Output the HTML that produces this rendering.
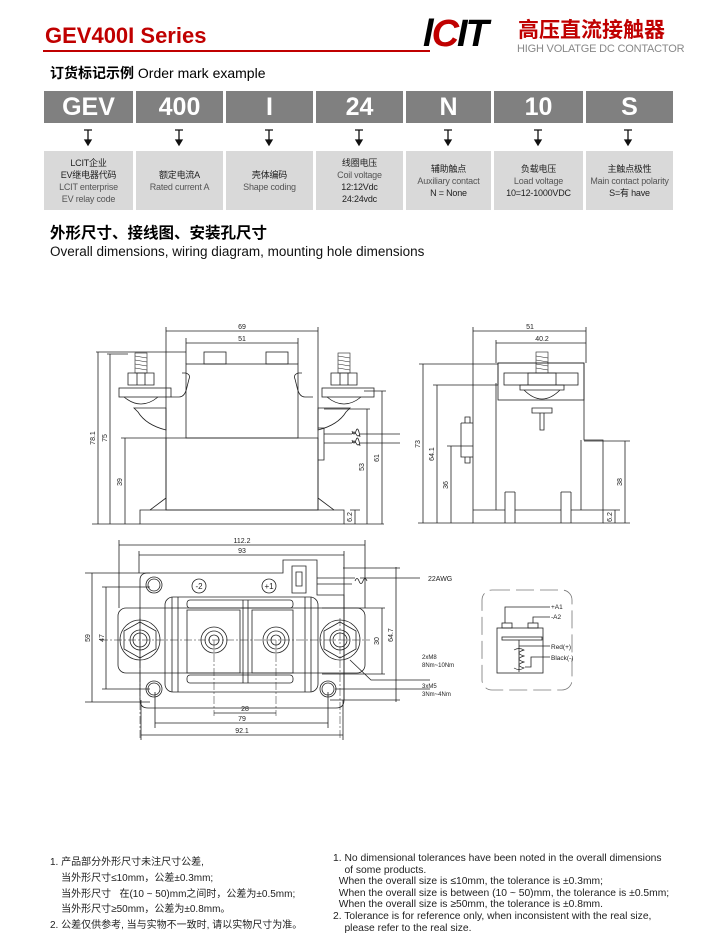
<!DOCTYPE html>
<html><head><meta charset="utf-8">
<style>
body{margin:0;background:#fff;width:708px;height:949px;overflow:hidden;position:relative;font-family:"Liberation Sans","Noto Sans CJK SC",sans-serif;}
.a{position:absolute;white-space:nowrap;}
.hb{position:absolute;top:91px;height:32px;background:#808080;color:#fff;font-weight:bold;font-size:25px;text-align:center;line-height:33px;}
.ib{position:absolute;top:151px;height:59px;background:#d9d9d9;text-align:center;font-size:9px;letter-spacing:-0.2px;line-height:12px;color:#222;display:flex;flex-direction:column;justify-content:center;}
.ib .g{color:#555;}
.n{position:absolute;color:#222;}
</style></head><body>
<div class="a" style="left:45px;top:23px;color:#c00000;font-weight:bold;font-size:22px;">GEV400I Series</div>
<div class="a" style="left:43px;top:50px;width:387px;height:2px;background:#c00000;"></div>
<div class="a" style="left:423px;top:14px;font-size:38px;font-weight:bold;font-style:italic;letter-spacing:-2px;line-height:40px;"><span style="color:#000">l</span><span style="color:#c00000">C</span><span style="color:#000">IT</span></div>
<div class="a" style="left:518px;top:20px;color:#c00000;font-weight:bold;font-size:21px;line-height:22px;">高压直流接触器</div>
<div class="a" style="left:517px;top:43px;color:#888;font-size:11px;line-height:12px;letter-spacing:-0.2px;">HIGH VOLATGE DC CONTACTOR</div>
<div class="a" style="left:50px;top:63px;font-size:14px;"><b>订货标记示例</b> Order mark example</div>

<div class="hb" style="left:44px;width:89px">GEV</div>
<div class="hb" style="left:136px;width:87px">400</div>
<div class="hb" style="left:226px;width:87px">I</div>
<div class="hb" style="left:316px;width:87px">24</div>
<div class="hb" style="left:406px;width:85px">N</div>
<div class="hb" style="left:494px;width:89px">10</div>
<div class="hb" style="left:586px;width:87px">S</div>

<svg class="a" style="left:0;top:0" width="708" height="160">
<g stroke="#111" stroke-width="1.3" fill="#111">
<path d="M84 130h8M88 130v12" fill="none"/><path d="M85 140l3 5 3-5z"/>
<path d="M175 130h8M179 130v12" fill="none"/><path d="M176 140l3 5 3-5z"/>
<path d="M265 130h8M269 130v12" fill="none"/><path d="M266 140l3 5 3-5z"/>
<path d="M355 130h8M359 130v12" fill="none"/><path d="M356 140l3 5 3-5z"/>
<path d="M444 130h8M448 130v12" fill="none"/><path d="M445 140l3 5 3-5z"/>
<path d="M534 130h8M538 130v12" fill="none"/><path d="M535 140l3 5 3-5z"/>
<path d="M624 130h8M628 130v12" fill="none"/><path d="M625 140l3 5 3-5z"/>
</g></svg>

<div class="ib" style="left:44px;width:89px"><div>LCIT企业</div><div>EV继电器代码</div><div class="g">LCIT enterprise</div><div class="g">EV relay code</div></div>
<div class="ib" style="left:136px;width:87px"><div>额定电流A</div><div class="g">Rated current A</div></div>
<div class="ib" style="left:226px;width:87px"><div>壳体编码</div><div class="g">Shape coding</div></div>
<div class="ib" style="left:316px;width:87px"><div>线圈电压</div><div class="g">Coil voltage</div><div>12:12Vdc</div><div>24:24vdc</div></div>
<div class="ib" style="left:406px;width:85px"><div>辅助触点</div><div class="g">Auxiliary contact</div><div>N = None</div></div>
<div class="ib" style="left:494px;width:89px"><div>负载电压</div><div class="g">Load voltage</div><div>10=12-1000VDC</div></div>
<div class="ib" style="left:586px;width:87px"><div>主触点极性</div><div class="g">Main contact polarity</div><div>S=有 have</div></div>

<div class="a" style="left:50px;top:221px;font-size:15.5px;font-weight:bold;">外形尺寸、接线图、安装孔尺寸</div>
<div class="a" style="left:50px;top:244px;font-size:13.5px;color:#111;">Overall dimensions, wiring diagram, mounting hole dimensions</div>

<svg class="a" style="left:0;top:0" width="708" height="949" font-family="Liberation Sans Narrow, Liberation Sans, sans-serif">
<g fill="none" stroke="#222" stroke-width="0.8">
<path d="M166 327V510M318 327V510M186 338V364M298 338V364"/>
<path d="M166 331H318M186 343H298"/>
<rect x="204" y="352" width="22" height="12"/><rect x="266" y="352" width="22" height="12"/>
<rect x="186" y="364" width="112" height="74"/>
<path d="M166 438H318V510H166Z"/>
<path d="M140 510H344V524H140Z"/>
<path d="M166 498L150 510M318 498L334 510"/>
<path d="M171 397h8q6 0 8-10l2-8q2-4 -3-6h-4M313 397h-8q-6 0-8-10l-2-8q-2-4 3-6h4"/>
<path d="M134 408h32v22q-20-5-28-18zM350 408h-32v22q20-5 28-18z"/>
<g id="bl">
<rect x="135" y="353" width="12" height="20" stroke-width="0.6"/>
<path d="M135 356l12 2M135 360l12 2M135 364l12 2M135 368l12 2" stroke-width="0.6"/>
<path d="M128 373h26v12h-26zM137 373v12M145 373v12"/>
<rect x="119" y="388" width="52" height="9"/>
<path d="M124 397q17 14 34 0"/>
</g>
<use href="#bl" x="203"/>
<path d="M318 428h6v32h-6M324 434H352M324 443H352M360 434H400M360 443H400"/>
<path d="M352 434q2-4 4 0t4 0M352 443q2-4 4 0t4 0M352 431q2 6 4 0t4 6M352 440q2 6 4 0t4 6"/>
<path d="M96 352H186M98 352V524M107 354H128M110 354V524M121 438H166M125 438V524M92 524H140M344 524H384M350 510H360M355 510V524M324 409H370M367 409V524M364 391H386M382 391V524"/>
<path d="M473 327V385M586 327V363M496 340V363M473 331H586M496 343H586"/>
<path d="M473 385V523H603V440H584V363H498V385Z"/>
<path d="M496 383V510M581 440V510M473 510H505M515 510H561M571 510H603"/>
<path d="M505 492V523M515 492V523M561 492V523M571 492V523M505 492h10M561 492h10"/>
<rect x="498" y="363" width="86" height="37"/>
<rect x="504" y="373" width="74" height="12"/>
<rect x="536" y="352" width="12" height="21" stroke-width="0.6"/>
<path d="M536 356l12 2M536 360l12 2M536 364l12 2M536 368l12 2" stroke-width="0.6"/>
<path d="M528 373h28v12h-28zM520 385h44v5h-44zM524 390q18 18 36 0M532 408h20v5h-20zM540 413v17h4v-17"/>
<path d="M461 423h12M461 423v34h12M465 423v-6h5v6M465 457v6h5v-6"/>
<path d="M419 364H498M423 364V523M433 385H473M437 385V523M447 446H473M451 446V523M584 441H630M625 441V523M603 510H620M615 510V523M418 523H473M603 523H630"/>
<path d="M119 540V608M365 540V608M139 551V573M344 551V700M119 545H365M139 555H344"/>
<rect x="118" y="608" width="247" height="65" rx="8"/>
<path d="M140 700V580q0-7 8-7H283V560h34v35h27v105q0 8-8 8H148q-8 0-8-8z"/>
<rect x="165" y="597" width="153" height="95" rx="8"/>
<path d="M172 597v95M178 597v95M305 597v95M311 597v95"/>
<rect x="187" y="600" width="106" height="8" rx="3"/><rect x="187" y="675" width="106" height="8" rx="3"/>
<path d="M187 610h53v63h-53zM252 610h41v63h-41zM243 600v83M248 600v83"/>
<circle cx="154" cy="585" r="8"/><circle cx="154" cy="585" r="6"/>
<circle cx="154" cy="689" r="8"/><circle cx="154" cy="689" r="6"/>
<circle cx="328" cy="689" r="8"/><circle cx="328" cy="689" r="6"/>
<g id="tm"><circle cx="140" cy="640" r="20"/><path d="M140 622l16 9v18l-16 9-16-9v-18z"/><circle cx="140" cy="640" r="10"/><circle cx="140" cy="640" r="7"/></g>
<use href="#tm" x="200"/>
<circle cx="214" cy="640" r="13"/><circle cx="214" cy="640" r="9"/><circle cx="214" cy="640" r="5"/>
<circle cx="276" cy="640" r="13"/><circle cx="276" cy="640" r="9"/><circle cx="276" cy="640" r="5"/>
<circle cx="199" cy="586" r="7"/><circle cx="269" cy="586" r="7"/>
<path d="M100 640H370M140 618V740M340 618V740M214 640V716M276 640V716" stroke-dasharray="8 2 2 2" stroke-width="0.5"/>
<path d="M292 566h14v27h-14zM296 572h6v14h-6z"/>
<path d="M317 578H355M360 578H420M317 584H352M355 581q2-5 4 0t4 0t4 0"/>
<path d="M343 568H400M396 567V702M330 700H400M322 608H385M382 608V674M322 674H385M350 660L371 680H430M335 689H430M85 573H150M92 573V702M85 702H150M102 587H150M106 587V689M102 689H150"/>
<path d="M214 713H276M155 723H328M141 735H343M155 692V728M328 692V728M141 700V740M343 700V740"/>
<rect x="482" y="590" width="90" height="100" rx="10" stroke-dasharray="18 6" stroke="#777"/>
<rect x="497" y="628" width="46" height="45"/>
<rect x="502" y="623" width="10" height="5"/><rect x="528" y="623" width="10" height="5"/>
<rect x="502" y="637" width="40" height="3"/>
<path d="M505 623V607H550M533 623V617H550M519 640V672M519 646H550M525 667H531V657H550"/>
<path d="M514 650q5-3 10 0q-10 3 0 6q-10 3 0 6q-10 3 0 6q-5 3-10 0" stroke-width="0.7"/>
</g>
<g fill="#222" font-size="7" text-anchor="middle">
<text x="242" y="329">69</text><text x="242" y="341">51</text>
<text x="530" y="329">51</text><text x="542" y="341">40.2</text>
<text x="242" y="543">112.2</text><text x="242" y="553">93</text>
<text x="245" y="711">28</text><text x="242" y="721">79</text><text x="242" y="733">92.1</text>
<text transform="translate(95,438) rotate(-90)">78.1</text>
<text transform="translate(107,438) rotate(-90)">75</text>
<text transform="translate(122,482) rotate(-90)">39</text>
<text transform="translate(364,467) rotate(-90)">53</text>
<text transform="translate(379,458) rotate(-90)">61</text>
<text transform="translate(352,517) rotate(-90)">6.2</text>
<text transform="translate(420,444) rotate(-90)">73</text>
<text transform="translate(434,454) rotate(-90)">64.1</text>
<text transform="translate(448,485) rotate(-90)">36</text>
<text transform="translate(622,482) rotate(-90)">38</text>
<text transform="translate(612,517) rotate(-90)">6.2</text>
<text transform="translate(104,638) rotate(-90)">47</text>
<text transform="translate(90,638) rotate(-90)">59</text>
<text transform="translate(379,641) rotate(-90)">30</text>
<text transform="translate(393,635) rotate(-90)">64.7</text>
<text x="199" y="589" font-size="8">-2</text><text x="269" y="589" font-size="8">+1</text>
<g text-anchor="start"><text x="428" y="581">22AWG</text>
<text x="422" y="659" font-size="6">2xM8</text><text x="422" y="667" font-size="6">8Nm~10Nm</text>
<text x="422" y="688" font-size="6">3xM5</text><text x="422" y="696" font-size="6">3Nm~4Nm</text>
<text x="551" y="609" font-size="6.5">+A1</text><text x="551" y="619" font-size="6.5">-A2</text>
<text x="551" y="649" font-size="6.5">Red(+)</text><text x="551" y="660" font-size="6.5">Black(-)</text></g>
</g>
</svg>

<div class="n" style="left:50px;top:855px;font-size:10px;line-height:15.8px;">1. 产品部分外形尺寸未注尺寸公差,<br>&nbsp;&nbsp;&nbsp;&nbsp;当外形尺寸≤10mm，公差±0.3mm;<br>&nbsp;&nbsp;&nbsp;&nbsp;当外形尺寸&nbsp;&nbsp;&nbsp;在(10 ~ 50)mm之间时，公差为±0.5mm;<br>&nbsp;&nbsp;&nbsp;&nbsp;当外形尺寸≥50mm，公差为±0.8mm。<br>2. 公差仅供参考, 当与实物不一致时, 请以实物尺寸为准。</div>
<div class="n" style="left:333px;top:853px;font-size:10.3px;line-height:11.6px;">1. No dimensional tolerances have been noted in the overall dimensions<br>&nbsp;&nbsp;&nbsp;&nbsp;of some products.<br>&nbsp;&nbsp;When the overall size is ≤10mm, the tolerance is ±0.3mm;<br>&nbsp;&nbsp;When the overall size is between (10 ~ 50)mm, the tolerance is ±0.5mm;<br>&nbsp;&nbsp;When the overall size is ≥50mm, the tolerance is ±0.8mm.<br>2. Tolerance is for reference only, when inconsistent with the real size,<br>&nbsp;&nbsp;&nbsp;&nbsp;please refer to the real size.</div>
</body></html>
